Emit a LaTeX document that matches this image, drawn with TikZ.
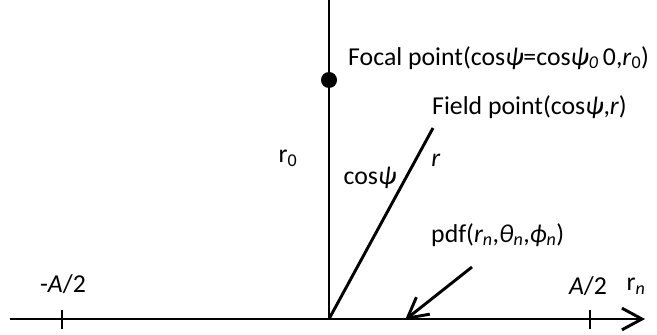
\documentclass[tikz,border=0pt]{standalone}
\usepackage{fontspec}
\setmainfont{Carlito}
\usepackage{tikz}
\usetikzlibrary{arrows.meta, positioning, calc}

\begin{document}
\begin{tikzpicture}[x=0.03cm, y=0.03cm, >={Straight Barb[length=6mm, width=6.5mm]},
    axisline/.style={line width=2.5pt},
    lbl/.style={inner sep=0pt, font=\fontsize{22}{26}\selectfont}]
    \useasboundingbox (0,0) rectangle (657,334);
    % axes
    \coordinate (O) at (329,15);
    \coordinate (xl) at (10,15);
    \coordinate (xr) at (645,15);
    \coordinate (top) at (329,334);
    \coordinate (fp) at (433,206);
    \draw[axisline, ->] (xl) -- (xr);
    \draw[axisline] (O) -- (top);
    \draw[axisline] (O) -- (fp);
    % ticks
    \coordinate (tl) at (62,15);
    \coordinate (tr) at (590,15);
    \draw[axisline] ($(tl)+(0,-10)$) -- ($(tl)+(0,9)$);
    \draw[axisline] ($(tr)+(0,-10)$) -- ($(tr)+(0,9)$);
    % focal point
    \node[circle, fill=black, minimum size=0.48cm, inner sep=0pt] (dot) at (329,254) {};
    \node[lbl, anchor=west] (focal) at (348,276) {Focal point(cos\textit{ψ}=cos\textit{ψ\textsubscript{0}}\,0,\textit{r}\textsubscript{0})};
    \node[lbl, anchor=west] (field) at (432,227) {Field point(cos\textit{ψ},\textit{r})};
    \node[lbl] (rz) at (288,176) {r\textsubscript{0}};
    \node[lbl] (cps) at (370,156) {cos\textit{ψ}};
    \node[lbl] (rr) at (436,174) {\textit{r}};
    % pdf
    \node[lbl, anchor=west] (pdf) at (431,99) {pdf(\textit{r\textsubscript{n}},\textit{θ\textsubscript{n}},\textit{ϕ\textsubscript{n}})};
    \coordinate (ps) at (472,67);
    \coordinate (pe) at (405,14);
    \draw[axisline, ->] (ps) -- (pe);
    % axis labels
    \node[lbl] (ml) at (63,50) {-\textit{A}/2};
    \node[lbl] (pl) at (588,48) {\textit{A}/2};
    \node[lbl] (rn) at (636,48) {r\textsubscript{\textit{n}}};
\end{tikzpicture}
\end{document}
